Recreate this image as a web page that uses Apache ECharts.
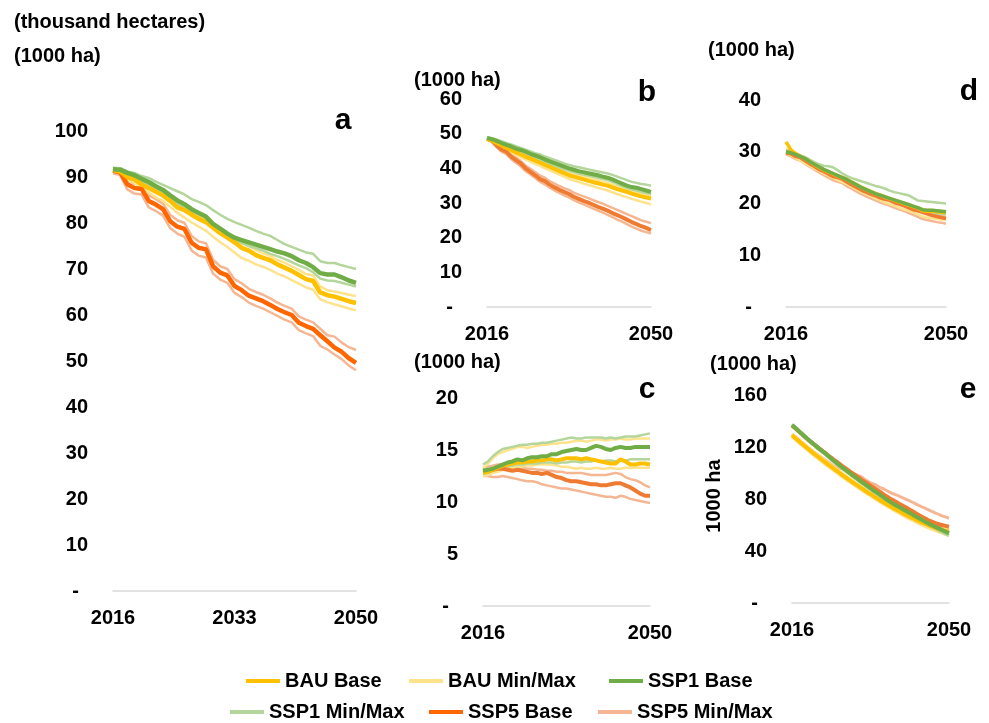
<!DOCTYPE html>
<html>
<head>
<meta charset="utf-8">
<script src="https://cdn.jsdelivr.net/npm/echarts@6/dist/echarts.min.js"></script>
<style>
  html, body { margin: 0; padding: 0; background: #fff; }
  #chart { width: 989px; height: 723px; }
</style>
</head>
<body>
<div id="chart"></div>
<script>
// years on the x axis
const years = [];
for (let y = 2016; y <= 2050; y++) years.push(String(y));

// panel a
const a_bau     = [91.5,91.2,90.0,89.5,88.4,87.6,86.8,86.0,84.8,83.4,82.8,81.8,80.9,80.2,79.0,77.8,76.8,75.8,74.6,74.0,73.0,72.4,71.9,71.0,70.3,69.6,68.7,67.8,67.4,64.9,64.3,64.0,63.5,63.0,62.6];
const a_bauMax  = [91.8,91.5,90.4,89.9,89.0,88.3,87.5,86.7,85.6,84.3,83.7,82.7,81.8,81.0,79.8,78.6,77.6,76.6,75.6,75.0,74.1,73.4,72.8,72.0,71.4,70.6,69.8,68.9,68.6,66.2,65.4,65.1,64.8,64.4,64.1];
const a_bauMin  = [91.3,90.8,89.5,88.8,87.6,86.6,85.6,84.8,83.5,82.2,81.2,80.1,79.2,78.3,77.0,75.8,74.8,73.6,72.4,71.8,71.0,70.5,69.8,69.0,68.4,67.6,66.8,66.0,65.5,63.4,62.8,62.3,61.9,61.4,61.0];
const a_ssp1    = [91.7,91.6,90.9,90.4,89.6,88.9,88.0,87.2,86.0,84.9,84.1,83.0,82.2,81.4,79.8,78.8,77.7,76.8,76.3,75.8,75.3,74.8,74.3,73.8,73.4,72.8,71.9,71.3,70.4,69.1,68.8,68.8,68.2,67.5,67.0];
const a_ssp1Max = [92.0,91.9,91.2,90.9,90.2,89.8,89.0,88.3,87.6,86.9,86.2,85.2,84.6,83.9,82.8,81.8,80.9,80.2,79.6,79.0,78.3,77.7,77.2,76.3,75.4,74.8,74.2,73.6,73.3,71.7,71.3,71.3,70.8,70.4,70.0];
const a_ssp1Min = [91.8,91.4,90.4,89.8,89.0,88.3,87.2,86.4,85.2,84.1,83.3,82.2,81.2,80.4,79.2,78.3,77.2,76.3,75.7,75.0,74.5,74.0,73.3,72.8,72.2,71.5,70.8,70.2,69.3,67.9,67.5,67.4,67.0,66.6,66.2];
const a_ssp5    = [91.4,91.0,88.4,87.6,87.4,84.8,84.0,83.0,80.4,79.2,78.7,75.7,74.6,74.3,70.6,69.2,68.6,66.3,65.4,64.2,63.6,63.0,62.2,61.3,60.6,60.0,58.3,57.6,57.0,55.6,54.3,52.9,52.0,50.6,49.6];
const a_ssp5Max = [91.6,91.3,89.4,88.6,88.4,86.0,85.2,84.2,81.8,80.6,80.0,77.2,76.0,75.6,72.0,70.6,70.0,67.8,66.9,65.7,65.0,64.4,63.6,62.7,62.0,61.4,59.7,59.0,58.4,57.0,55.6,55.3,54.0,53.0,52.4];
const a_ssp5Min = [90.8,90.4,87.3,86.4,86.2,83.4,82.6,81.6,78.9,77.7,77.0,74.0,72.9,72.5,69.0,67.7,67.0,64.8,63.9,62.7,62.0,61.4,60.6,59.8,59.0,58.4,56.7,56.0,55.4,53.3,52.5,51.4,50.4,49.0,48.0];

// panel b
const b_bau     = [48.5,48.0,47.3,46.6,45.9,45.3,44.6,44.0,43.4,42.8,42.2,41.6,41.0,40.4,39.8,39.2,38.6,38.0,37.6,37.2,36.8,36.4,36.0,35.7,35.3,35.0,34.5,34.0,33.6,33.2,32.7,32.3,31.9,31.6,31.3];
const b_bauMax  = [48.7,48.3,47.7,47.0,46.4,45.8,45.2,44.6,44.0,43.4,42.8,42.2,41.6,41.0,40.5,39.9,39.3,38.8,38.4,38.0,37.6,37.2,36.8,36.5,36.1,35.8,35.3,34.8,34.4,34.0,33.6,33.2,32.8,32.5,32.2];
const b_bauMin  = [48.3,47.7,46.9,46.1,45.3,44.6,43.9,43.2,42.6,41.9,41.3,40.7,40.0,39.4,38.8,38.2,37.6,37.0,36.5,36.1,35.6,35.2,34.8,34.4,34.0,33.6,33.1,32.6,32.1,31.7,31.2,30.8,30.4,30.0,29.6];
const b_ssp1    = [48.8,48.4,47.9,47.3,46.8,46.3,45.7,45.3,44.8,44.2,43.7,43.2,42.6,42.0,41.5,41.0,40.5,40.0,39.6,39.2,38.9,38.6,38.3,38.0,37.6,37.3,36.8,36.2,35.6,35.0,34.6,34.4,34.0,33.6,33.2];
const b_ssp1Max = [49.0,48.7,48.3,47.8,47.3,46.9,46.4,45.9,45.4,44.9,44.4,44.0,43.4,42.9,42.4,41.9,41.4,41.0,40.6,40.3,40.0,39.7,39.4,39.1,38.8,38.5,38.1,37.6,37.1,36.6,36.1,35.8,35.5,35.3,35.0];
const b_ssp1Min = [48.7,48.2,47.6,46.9,46.3,45.8,45.2,44.7,44.1,43.5,43.0,42.4,41.8,41.2,40.7,40.2,39.7,39.3,38.9,38.5,38.2,37.9,37.6,37.3,36.9,36.6,36.1,35.5,34.9,34.3,33.9,33.6,33.2,32.9,32.6];
const b_ssp5    = [48.5,48.0,46.6,45.4,44.8,43.4,42.4,41.4,40.0,39.0,38.0,36.9,36.3,35.3,34.5,33.8,33.2,32.6,31.8,31.2,30.6,30.1,29.5,28.9,28.4,27.8,27.1,26.5,25.9,25.2,24.5,23.9,23.3,22.8,22.2];
const b_ssp5Max = [48.6,48.3,47.0,45.9,45.3,44.0,43.1,42.1,40.8,39.9,38.9,37.9,37.3,36.3,35.6,34.9,34.3,33.8,33.0,32.4,31.9,31.4,30.8,30.3,29.8,29.2,28.6,28.0,27.4,26.8,26.2,25.6,25.0,24.6,24.2];
const b_ssp5Min = [48.3,47.6,46.1,44.8,44.1,42.7,41.6,40.6,39.2,38.2,37.2,36.1,35.4,34.4,33.6,32.9,32.2,31.6,30.8,30.2,29.6,29.0,28.4,27.8,27.2,26.6,25.9,25.2,24.6,23.9,23.2,22.6,22.0,21.6,21.2];

// panel c
const c_bau     = [12.8,12.9,13.1,13.3,13.5,13.6,13.7,13.8,13.8,13.9,13.9,14.0,14.0,14.1,14.1,14.0,14.1,14.2,14.2,14.2,14.1,14.2,14.1,14.0,13.9,13.8,13.7,13.7,14.1,13.9,13.6,13.6,13.7,13.7,13.6];
const c_bauMax  = [13.2,13.7,14.2,14.6,14.8,15.0,15.1,15.3,15.3,15.2,15.3,15.4,15.5,15.5,15.6,15.6,15.7,15.7,15.8,15.9,15.9,15.8,15.9,16.0,16.0,15.9,16.0,16.0,16.1,16.0,16.0,16.1,16.1,16.1,16.1];
const c_bauMin  = [12.5,12.6,12.8,12.9,13.1,13.2,13.3,13.4,13.4,13.5,13.5,13.6,13.6,13.6,13.6,13.5,13.4,13.4,13.3,13.2,13.3,13.2,13.2,13.3,13.2,13.2,13.3,13.2,13.2,13.3,13.3,13.3,13.3,13.3,13.3];
const c_ssp1    = [13.0,13.1,13.2,13.4,13.6,13.8,13.9,14.1,14.0,14.2,14.3,14.3,14.4,14.4,14.6,14.6,14.8,14.9,15.0,15.1,15.0,15.0,15.2,15.4,15.3,15.1,15.0,15.2,15.3,15.2,15.2,15.3,15.3,15.3,15.3];
const c_ssp1Max = [13.6,13.9,14.4,14.8,15.1,15.2,15.3,15.4,15.5,15.5,15.6,15.6,15.7,15.7,15.8,15.9,16.0,16.1,16.2,16.1,16.1,16.2,16.2,16.2,16.2,16.1,16.2,16.1,16.2,16.3,16.3,16.3,16.4,16.5,16.6];
const c_ssp1Min = [12.7,12.8,13.0,13.2,13.3,13.4,13.5,13.6,13.6,13.7,13.7,13.7,13.8,13.8,13.8,13.7,13.8,13.8,13.9,13.9,13.8,13.9,13.9,14.0,13.9,14.0,14.0,13.9,14.0,14.0,14.1,14.1,14.1,14.1,14.1];
const c_ssp5    = [13.0,13.0,13.1,13.2,13.2,13.1,13.0,13.1,13.0,12.9,12.8,12.8,12.7,12.8,12.6,12.4,12.3,12.1,12.0,12.0,11.9,11.8,11.7,11.7,11.6,11.6,11.7,11.8,11.8,11.6,11.4,11.1,10.8,10.6,10.6];
const c_ssp5Max = [13.3,13.4,13.5,13.6,13.6,13.5,13.4,13.3,13.3,13.2,13.2,13.1,13.1,13.0,13.0,12.9,12.9,12.8,12.8,12.8,12.8,12.7,12.6,12.6,12.6,12.6,12.7,12.8,12.7,12.4,12.2,12.1,11.9,11.6,11.4];
const c_ssp5Min = [12.5,12.5,12.4,12.4,12.5,12.4,12.3,12.2,12.1,12.0,12.0,11.9,11.7,11.6,11.5,11.4,11.3,11.3,11.2,11.1,11.0,10.9,10.8,10.7,10.6,10.5,10.5,10.4,10.6,10.5,10.3,10.2,10.1,10.0,9.9];

// panel d
const d_bau     = [31.9,30.4,29.7,29.1,28.7,28.1,27.5,27.0,26.5,26.1,25.7,25.3,25.0,24.6,24.1,23.6,23.1,22.7,22.3,21.9,21.6,21.2,20.9,20.6,20.3,20.0,19.7,19.4,19.1,18.6,18.5,18.5,18.4,18.3,18.2];
const d_bauMax  = [30.5,30.2,29.8,29.3,28.9,28.3,27.7,27.2,26.7,26.3,25.9,25.5,25.2,24.8,24.3,23.8,23.3,22.9,22.5,22.1,21.8,21.4,21.1,20.8,20.5,20.2,19.9,19.6,19.3,18.9,18.8,18.8,18.7,18.6,18.5];
const d_bauMin  = [29.8,29.3,28.8,28.3,27.8,27.3,26.8,26.3,25.8,25.4,24.9,24.5,24.1,23.7,23.2,22.7,22.2,21.8,21.4,21.0,20.6,20.2,19.9,19.6,19.2,18.9,18.6,18.3,17.9,17.5,17.3,17.2,17.0,16.9,16.8];
const d_ssp1    = [30.0,29.8,29.5,29.1,28.7,28.1,27.6,27.1,26.6,26.2,25.8,25.4,25.0,24.6,24.1,23.6,23.1,22.7,22.3,21.9,21.6,21.3,21.0,20.7,20.4,20.1,19.8,19.5,19.2,18.8,18.7,18.7,18.6,18.5,18.4];
const d_ssp1Max = [30.3,30.1,29.7,29.3,29.0,28.5,28.0,27.6,27.3,27.2,27.0,26.4,25.8,25.3,24.9,24.6,24.3,24.0,23.7,23.4,23.2,22.9,22.5,22.2,22.0,21.8,21.6,21.1,20.6,20.5,20.4,20.3,20.2,20.1,20.0];
const d_ssp1Min = [29.8,29.5,29.2,28.8,28.4,27.9,27.4,26.9,26.4,26.0,25.6,25.2,24.8,24.4,23.9,23.4,22.9,22.5,22.1,21.7,21.4,21.1,20.8,20.5,20.2,19.8,19.5,19.2,18.9,18.4,18.3,18.2,18.1,18.0,17.9];
const d_ssp5    = [29.8,29.6,29.1,28.9,28.3,27.7,27.2,26.6,26.2,25.7,25.2,25.0,24.7,24.1,23.6,23.1,22.6,22.2,21.8,21.5,21.1,20.8,20.6,20.2,19.9,19.6,19.2,18.8,18.6,18.3,18.0,17.7,17.5,17.3,17.1];
const d_ssp5Max = [30.1,29.9,29.5,29.2,28.6,28.0,27.5,26.9,26.5,26.0,25.5,25.3,25.0,24.4,23.9,23.4,22.9,22.5,22.1,21.8,21.4,21.1,20.9,20.5,20.2,19.9,19.5,19.1,18.9,18.6,18.3,18.0,17.8,17.6,17.4];
const d_ssp5Min = [29.5,29.1,28.6,28.3,27.7,27.1,26.6,26.0,25.5,25.0,24.5,24.2,23.9,23.3,22.8,22.3,21.8,21.4,21.0,20.6,20.2,19.9,19.6,19.2,18.9,18.6,18.2,17.8,17.4,17.0,16.8,16.6,16.4,16.3,16.1];

// panel e
const e_bau     = [129,126,123,120,117,114.2,111.4,108.7,106,103.4,100.8,98.2,95.7,93.2,90.8,88.4,86,83.7,81.4,79.2,77,74.9,72.9,70.9,69,67.2,65.4,63.7,62.1,60.6,59.2,57.9,56.7,55.7,55.0];
const e_bauMax  = [130,127.1,124.1,121.1,118.2,115.4,112.6,109.9,107.2,104.6,102,99.5,97,94.5,92.1,89.7,87.3,85,82.7,80.5,78.3,76.2,74.2,72.2,70.3,68.5,66.7,65,63.4,61.9,60.5,59.2,58,57.1,56.4];
const e_bauMin  = [128,124.8,121.7,118.7,115.8,112.9,110.1,107.3,104.6,102,99.4,96.8,94.3,91.8,89.4,87,84.6,82.3,80,77.8,75.6,73.5,71.4,69.4,67.4,65.5,63.7,61.9,60.2,58.6,57.1,55.7,54.3,53.1,52.0];
const e_ssp1    = [137,133.8,130.6,127.4,124.3,121.3,118.4,115.8,112.6,109.6,106.8,104,101.3,98.6,96,93.4,90.8,88.3,85.8,83.4,80.8,78.4,76.2,74.2,72.2,70.2,68.2,66.2,64.2,62.2,60.3,58.6,57,55.3,53.6];
const e_ssp1Max = [137.5,134.3,131.1,128,124.9,121.9,119,116.3,113.2,110.2,107.4,104.6,101.9,99.2,96.6,94,91.4,88.9,86.4,84,81.5,79.1,76.9,74.9,72.9,70.9,68.9,66.9,64.9,62.9,61,59.3,57.7,56,54.6];
const e_ssp1Min = [136.5,133.2,130,126.8,123.6,120.6,117.6,114.8,111.8,108.8,105.9,103.1,100.4,97.7,95,92.4,89.8,87.2,84.7,82.2,79.7,77.3,75,72.9,70.8,68.8,66.8,64.8,62.8,60.8,58.9,57.1,55.4,53.6,51.8];
const e_ssp5    = [136.5,133.4,130.3,127.2,124.2,121.3,118.5,115.8,113.1,110.4,107.8,105.2,102.6,100.1,97.6,95.1,92.7,90.3,88,85.6,83.2,80.9,78.8,76.8,74.8,72.8,70.8,68.6,66.5,64.7,63,61.6,60.4,59.5,58.7];
const e_ssp5Max = [130,127,124,121,118,115.5,113,110.5,108,105.5,104,103,102,100,98.5,97,94.5,92.5,91,89,87.5,85.5,84,82.5,80.8,79.3,77.7,75.8,74.2,72.6,70.9,69.4,67.8,66.4,65.2];
const e_ssp5Min = [128.5,125.4,122.4,119.4,116.5,113.6,110.8,108,105.3,102.7,100.1,97.6,95.1,92.6,90.2,87.8,85.4,83.1,80.8,78.6,76.4,74.3,72.2,70.2,68.3,66.4,64.6,62.9,61.3,59.8,58.4,57.2,56.3,55.7,55.4];

const FONT = '"Liberation Sans", Arial, Helvetica, sans-serif';
const colors = {
    bau: '#FFC000', bauMM: '#FFE38C',
    ssp1: '#70AD47', ssp1MM: '#B4D69C',
    ssp5: '#FF6600', ssp5MM: '#F5B793'
};

// grid boxes of the five small charts
const panels = [
    { grid: { left: 113, top: 131, width: 243, height: 460 }, max: 100, step: 10, every: 16, xm: 17, wBase: 4.5, wMM: 2.5, ssp5: '#FF6600',
      d: [a_bau, a_bauMax, a_bauMin, a_ssp1, a_ssp1Max, a_ssp1Min, a_ssp5, a_ssp5Max, a_ssp5Min] },
    { grid: { left: 487, top: 99, width: 164, height: 208 }, max: 60, step: 10, every: 33, xm: 17, wBase: 4, wMM: 2.5, ssp5: '#EF7B32',
      d: [b_bau, b_bauMax, b_bauMin, b_ssp1, b_ssp1Max, b_ssp1Min, b_ssp5, b_ssp5Max, b_ssp5Min] },
    { grid: { left: 483, top: 398, width: 167, height: 208 }, max: 20, step: 5, every: 33, xm: 17, wBase: 4, wMM: 2.5, ssp5: '#EF7B32',
      d: [c_bau, c_bauMax, c_bauMin, c_ssp1, c_ssp1Max, c_ssp1Min, c_ssp5, c_ssp5Max, c_ssp5Min] },
    { grid: { left: 786, top: 100, width: 160, height: 207 }, max: 40, step: 10, every: 33, xm: 17, wBase: 3.5, wMM: 2.5, ssp5: '#EF7B32',
      d: [d_bau, d_bauMax, d_bauMin, d_ssp1, d_ssp1Max, d_ssp1Min, d_ssp5, d_ssp5Max, d_ssp5Min] },
    { grid: { left: 792, top: 395, width: 157, height: 208 }, max: 160, step: 40, every: 33, xm: 17, wBase: 4, wMM: 3, ssp5: '#EF7B32',
      d: [e_bau, e_bauMax, e_bauMin, e_ssp1, e_ssp1Max, e_ssp1Min, e_ssp5, e_ssp5Max, e_ssp5Min] }
];

const grids = [], xAxes = [], yAxes = [], series = [];
panels.forEach((p, i) => {
    grids.push(Object.assign({ outerBoundsMode: 'none', containLabel: false }, p.grid));
    xAxes.push({
        type: 'category', gridIndex: i, data: years, boundaryGap: false,
        axisLine: { lineStyle: { color: '#D9D9D9', width: 1.5 } },
        axisTick: { show: false },
        axisLabel: { interval: p.every, margin: p.xm, color: '#000', fontFamily: FONT, fontWeight: 'bold', fontSize: 20 },
        splitLine: { show: false }
    });
    yAxes.push({
        type: 'value', gridIndex: i, min: 0, max: p.max, interval: p.step,
        axisLine: { show: false }, axisTick: { show: false }, splitLine: { show: false },
        axisLabel: {
            margin: 25, color: '#000', fontFamily: FONT, fontWeight: 'bold', fontSize: 20,
            formatter: v => v === 0 ? '{z|-}' : String(v),
            rich: { z: { color: '#000', fontFamily: FONT, fontWeight: 'bold', fontSize: 20, padding: [0, 9, 0, 0] } }
        }
    });
    const [bau, bauMax, bauMin, ssp1, ssp1Max, ssp1Min, ssp5, ssp5Max, ssp5Min] = p.d;
    const lines = [
        ['SSP5 Min/Max', ssp5Max, colors.ssp5MM, p.wMM],
        ['SSP5 Min/Max', ssp5Min, colors.ssp5MM, p.wMM],
        ['BAU Min/Max', bauMax, colors.bauMM, p.wMM],
        ['BAU Min/Max', bauMin, colors.bauMM, p.wMM],
        ['SSP1 Min/Max', ssp1Max, colors.ssp1MM, p.wMM],
        ['SSP1 Min/Max', ssp1Min, colors.ssp1MM, p.wMM],
        ['SSP5 Base', ssp5, p.ssp5, p.wBase],
        ['BAU Base', bau, colors.bau, p.wBase],
        ['SSP1 Base', ssp1, colors.ssp1, p.wBase]
    ];
    lines.forEach(l => {
        series.push({
            type: 'line', name: l[0], xAxisIndex: i, yAxisIndex: i, data: l[1],
            showSymbol: false, symbol: 'none', smooth: i === 4,
            lineStyle: { color: l[2], width: l[3] }, itemStyle: { color: l[2] },
            emphasis: { disabled: true }, animation: false
        });
    });
});

// legend items placed one by one like the original
const legendPos = [
    ['BAU Base', 246, 671], ['BAU Min/Max', 409, 671], ['SSP1 Base', 609, 671],
    ['SSP1 Min/Max', 230, 702], ['SSP5 Base', 429, 702], ['SSP5 Min/Max', 598, 702]
];
const legends = legendPos.map(l => ({
    data: [l[0]], left: l[1], top: l[2], padding: 0,
    icon: 'rect', itemWidth: 34, itemHeight: 4, itemGap: 0,
    textStyle: { color: '#000', fontFamily: FONT, fontWeight: 'bold', fontSize: 20, padding: [0, 0, 0, 0] }
}));

const label = (text, left, top) => ({ type: 'text', left: left, top: top,
    style: { text: text, fill: '#000', font: 'bold 20px ' + FONT } });
const letter = (text, x, y) => ({ type: 'text', x: x, y: y,
    style: { text: text, fill: '#000', font: 'bold 30px ' + FONT, align: 'center', verticalAlign: 'middle' } });

const option = {
    backgroundColor: '#fff',
    animation: false,
    grid: grids, xAxis: xAxes, yAxis: yAxes, series: series,
    legend: legends,
    graphic: [
        label('(thousand hectares)', 14, 12),
        label('(1000 ha)', 14, 46),
        label('(1000 ha)', 414, 70),
        label('(1000 ha)', 708, 40),
        label('(1000 ha)', 414, 352),
        label('(1000 ha)', 710, 354),
        { type: 'text', x: 714, y: 496, rotation: Math.PI / 2,
          style: { text: '1000 ha', fill: '#000', font: 'bold 20px ' + FONT, align: 'center', verticalAlign: 'middle' } },
        letter('a', 343, 121),
        letter('b', 647, 93),
        letter('c', 647, 390),
        letter('d', 969, 92),
        letter('e', 968, 390)
    ]
};

const chart = echarts.init(document.getElementById('chart'));
chart.setOption(option);
</script>
</body>
</html>
